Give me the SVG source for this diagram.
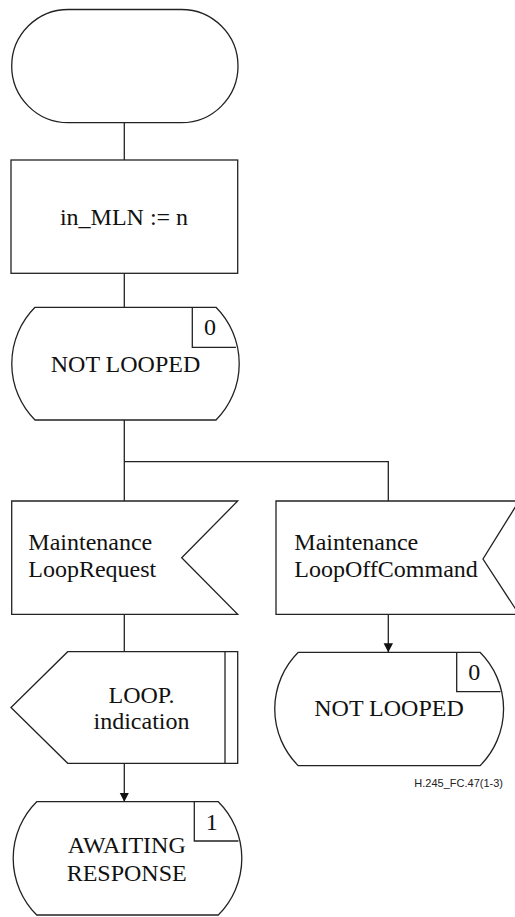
<svg xmlns="http://www.w3.org/2000/svg" width="515" height="917" viewBox="0 0 515 917">
<defs>
<style>
.s{fill:#fff;stroke:#222;stroke-width:1.3}
.l{fill:none;stroke:#222;stroke-width:1.3}
.t{font-family:"Liberation Serif","Times New Roman",serif;font-size:24px;fill:#111}
.m{text-anchor:middle}
.c{font-family:"Liberation Sans",Arial,sans-serif;font-size:11px;fill:#222;text-anchor:end}
</style>
<marker id="ah" markerWidth="10" markerHeight="10" refX="9" refY="4.7" orient="auto" markerUnits="userSpaceOnUse">
<path d="M0,0 L9,4.7 L0,9.4 Z" fill="#111"/>
</marker>
</defs>
<rect width="515" height="917" fill="#fff"/>
<g id="connectors">
<path class="l" d="M124.3,122.7 V160"/>
<path class="l" d="M124.3,273.3 V307.3"/>
<path class="l" d="M124.3,420 V501"/>
<path class="l" d="M124.3,461.7 H388.3 V501"/>
<path class="l" d="M124.3,614.3 V651.7"/>
<path class="l" d="M124.3,763.3 V801.7" marker-end="url(#ah)"/>
<path class="l" d="M388.3,614.3 V652.3" marker-end="url(#ah)"/>
</g>
<g id="start">
<rect class="s" x="11.7" y="9.5" width="226.3" height="113.2" rx="56.6" ry="56.6"/>
</g>
<g id="task">
<rect class="s" x="11" y="160" width="226.7" height="113.3"/>
<text class="t m" x="124" y="225">in_MLN := n</text>
</g>
<g id="state0">
<path class="s" d="M35,307.3 H216 A80,80 0 0 1 216,420 H35 A80,80 0 0 1 35,307.3 Z"/>
<path class="l" d="M192.3,307.3 V347.3 H236"/>
<text class="t m" x="210" y="335">0</text>
<text class="t m" x="125.5" y="372">NOT LOOPED</text>
</g>
<g id="input1">
<path class="s" d="M11.7,501 H237.7 L181.7,557.7 L237.7,614.3 H11.7 Z"/>
<text class="t" x="28.3" y="550">Maintenance</text>
<text class="t" x="28.3" y="577">LoopRequest</text>
</g>
<g id="input2">
<path class="s" d="M276,501 H519 L483,559 L519,614.3 H276 Z"/>
<text class="t" x="294.3" y="550">Maintenance</text>
<text class="t" x="294.3" y="577">LoopOffCommand</text>
</g>
<g id="output">
<path class="s" d="M67.7,651.7 H237.7 V763.3 H67.7 L11,707.5 Z"/>
<path class="l" d="M225,651.7 V763.3"/>
<text class="t m" x="141.5" y="703">LOOP.</text>
<text class="t m" x="141.5" y="729.3">indication</text>
</g>
<g id="state0b">
<path class="s" d="M298.3,652.3 H480 A80,80 0 0 1 480,765.7 H298.3 A80,80 0 0 1 298.3,652.3 Z"/>
<path class="l" d="M456.7,652.3 V691.7 H500.5"/>
<text class="t m" x="474.3" y="680">0</text>
<text class="t m" x="389" y="716">NOT LOOPED</text>
</g>
<g id="state1">
<path class="s" d="M36.7,801.7 H218.3 A80,80 0 0 1 218.3,915 H36.7 A80,80 0 0 1 36.7,801.7 Z"/>
<path class="l" d="M194.3,801.7 V841 H238.5"/>
<text class="t m" x="211.7" y="830">1</text>
<text class="t m" x="126.7" y="853.3">AWAITING</text>
<text class="t m" x="126.7" y="880.7">RESPONSE</text>
</g>
<g id="caption">
<text class="c" x="503" y="787">H.245_FC.47(1-3)</text>
</g>
</svg>
